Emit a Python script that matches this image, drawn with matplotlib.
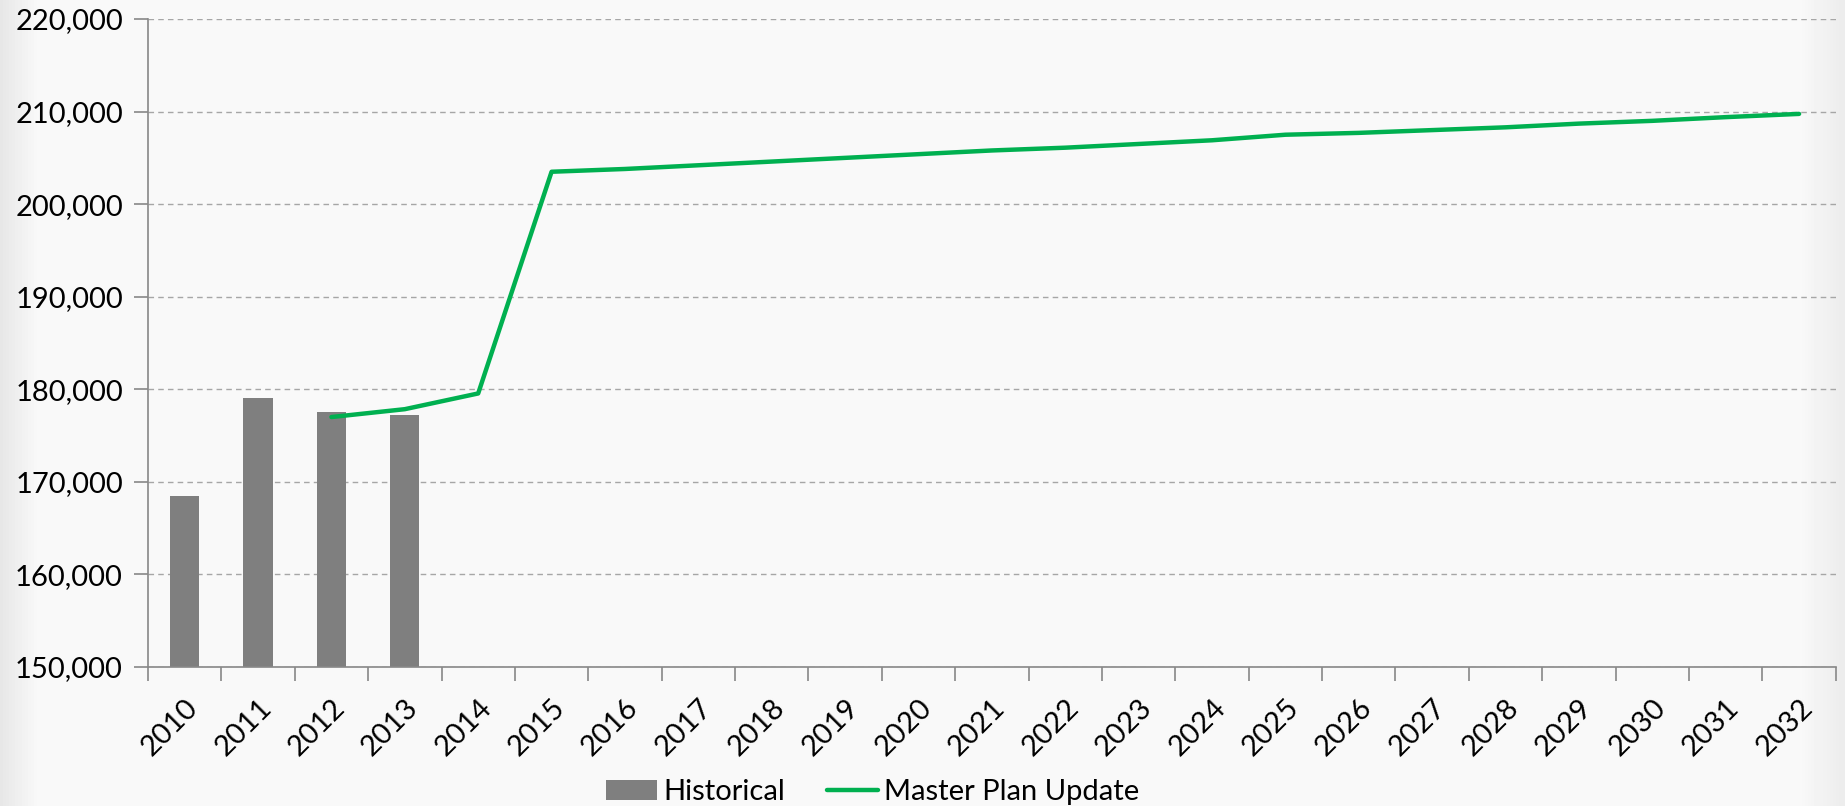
import numpy as np
import matplotlib
matplotlib.use("Agg")
import matplotlib.pyplot as plt
from matplotlib.ticker import FuncFormatter, FixedLocator

plt.rcParams['font.family'] = ['Lato', 'DejaVu Sans']

years = list(range(2010, 2033))
hist_years = [2010, 2011, 2012, 2013]
hist_values = [168500, 179050, 177500, 177250]

plan_years = list(range(2012, 2033))
plan_values = [177000, 177850, 179550, 203500, 203800, 204200, 204600, 205000,
               205400, 205800, 206100, 206500, 206900, 207500, 207700, 208000,
               208300, 208700, 209000, 209400, 209750]

fig = plt.figure(figsize=(18.45, 8.06), dpi=100, facecolor='#f9f9f9')

# soft shading at the left and right edges of the picture
bg = fig.add_axes([0, 0, 1, 1], zorder=-10)
xs = np.linspace(0, 1, 600)
shade = np.ones_like(xs) * 0.976
shade -= 0.07 * np.clip(1 - xs / 0.02, 0, 1)
shade -= 0.05 * np.clip((xs - 0.975) / 0.025, 0, 1)
bg.imshow(np.tile(shade, (10, 1)), cmap='gray', vmin=0, vmax=1,
          aspect='auto', extent=[0, 1, 0, 1])
bg.axis('off')

ax = fig.add_axes([0.0802, 0.1725, 0.9148, 0.8039])
ax.set_facecolor('none')

idx = {y: i for i, y in enumerate(years)}
hx = [idx[y] for y in hist_years]
px = [idx[y] for y in plan_years]

bars = ax.bar(hx, hist_values, width=0.4, color='#7f7f7f', label='Historical', zorder=2)
line, = ax.plot(px, plan_values, color='#00b050', lw=3.2, solid_capstyle='round',
                label='Master Plan Update', zorder=3)

ax.set_xlim(-0.5, len(years) - 0.5)
ax.set_ylim(150000, 220000)
ax.set_yticks(np.arange(150000, 220001, 10000))
ax.yaxis.set_major_formatter(FuncFormatter(lambda v, p: f"{int(v):,}"))
ax.grid(axis='y', color='#a6a6a6', linestyle=(0, (4, 3)), lw=1)
ax.set_axisbelow(True)

ax.set_xticks(range(len(years)))
ax.set_xticklabels([str(y) for y in years], rotation=45, ha='right',
                   rotation_mode='anchor')
ax.xaxis.set_minor_locator(FixedLocator(np.arange(-0.5, len(years), 1)))
ax.tick_params(axis='x', which='major', length=0, pad=20, labelsize=21)
ax.tick_params(axis='x', which='minor', length=10, color='#888888', width=1.2)
ax.tick_params(axis='y', length=10, color='#888888', width=1.2, labelsize=21, pad=8)

for s in ['top', 'right']:
    ax.spines[s].set_visible(False)
for s in ['left', 'bottom']:
    ax.spines[s].set_color('#888888')
    ax.spines[s].set_linewidth(1.2)

fig.legend(handles=[bars, line], labels=['Historical', 'Master Plan Update'],
           loc='center', bbox_to_anchor=(0.473, 0.017), ncol=2,
           frameon=False, fontsize=21, handlelength=1.75, handletextpad=0.2,
           columnspacing=1.45, borderpad=0)

fig.savefig('out.png', dpi=100, facecolor=fig.get_facecolor())
